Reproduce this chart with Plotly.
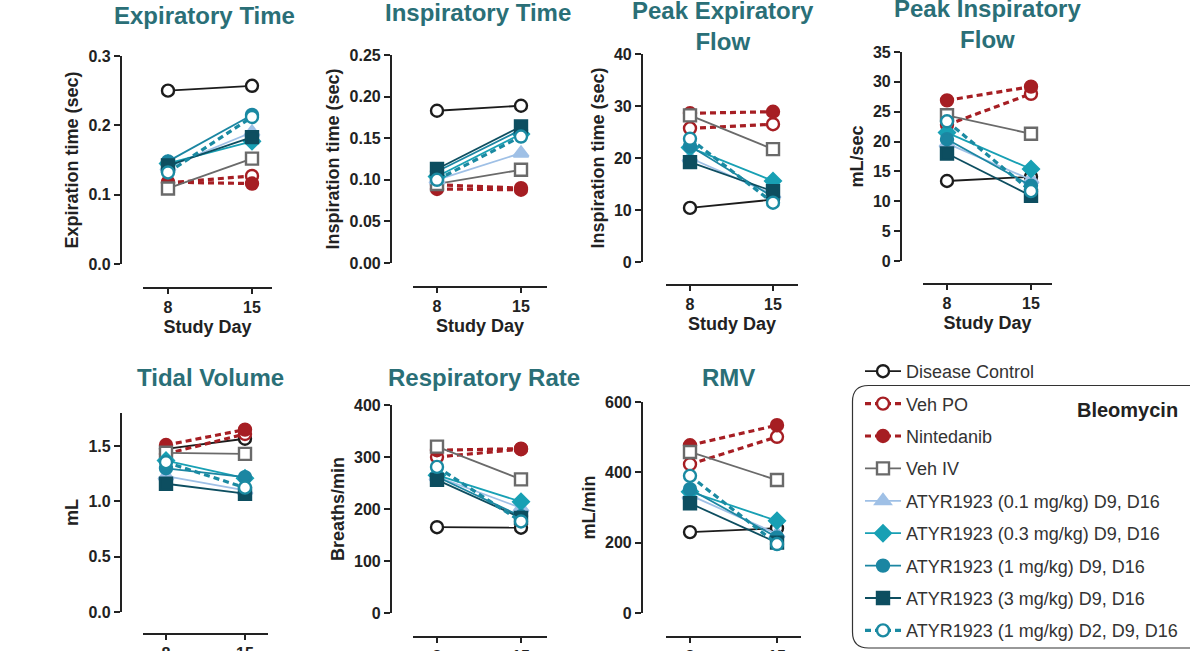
import plotly.graph_objects as go

W, H = 1190, 651

days = [8, 15]
groups = ["Disease Control", "Veh PO", "Nintedanib", "Veh IV",
          "ATYR1923 (0.1 mg/kg) D9, D16", "ATYR1923 (0.3 mg/kg) D9, D16",
          "ATYR1923 (1 mg/kg) D9, D16", "ATYR1923 (3 mg/kg) D9, D16",
          "ATYR1923 (1 mg/kg) D2, D9, D16"]

# values per group (same order as groups), day 8 and day 15
exp_time_d8 = [0.250, 0.117, 0.118, 0.109, 0.140, 0.145, 0.148, 0.142, 0.132]
exp_time_d15 = [0.257, 0.127, 0.116, 0.152, 0.190, 0.177, 0.215, 0.183, 0.212]
insp_time_d8 = [0.183, 0.094, 0.089, 0.095, 0.100, 0.104, 0.110, 0.113, 0.100]
insp_time_d15 = [0.189, 0.090, 0.088, 0.112, 0.132, 0.155, 0.160, 0.164, 0.152]
pef_d8 = [10.4, 25.7, 28.6, 28.2, 20.0, 22.0, 22.3, 19.2, 23.7]
pef_d15 = [12.0, 26.5, 28.9, 21.7, 13.0, 15.6, 12.5, 13.6, 11.4]
pif_d8 = [13.4, 22.8, 26.9, 24.4, 19.7, 21.5, 20.4, 18.0, 23.4]
pif_d15 = [14.1, 28.0, 29.2, 21.3, 13.6, 15.4, 12.6, 10.9, 11.7]
tv_d8 = [1.476, 1.43, 1.51, 1.44, 1.23, 1.37, 1.30, 1.16, 1.355]
tv_d15 = [1.567, 1.61, 1.65, 1.43, 1.10, 1.21, 1.22, 1.07, 1.125]
rr_d8 = [165, 300, 313, 320, 262, 265, 262, 256, 281]
rr_d15 = [164, 315, 316, 257, 202, 214, 186, 183, 176]
rmv_d8 = [230, 423, 477, 458, 335, 345, 352, 312, 390]
rmv_d15 = [241, 501, 534, 378, 225, 262, 215, 200, 196]

panel_titles = ["Expiratory Time", "Inspiratory Time", "Peak Expiratory<br>Flow",
                "Peak Inspiratory<br>Flow", "Tidal Volume", "Respiratory Rate", "RMV"]
y_titles = ["Expiration time (sec)", "Inspiration time (sec)", "Inspiration time (sec)",
            "mL/sec", "mL", "Breaths/min", "mL/min"]
y_ticks = [[0.0, 0.1, 0.2, 0.3], [0, 0.05, 0.10, 0.15, 0.20, 0.25], [0, 10, 20, 30, 40],
           [0, 5, 10, 15, 20, 25, 30, 35], [0.0, 0.5, 1.0, 1.5], [0, 100, 200, 300, 400],
           [0, 200, 400, 600]]
y_tickfmt = [".1f", ".2f", "d", "d", ".1f", "d", "d"]
y_max = [0.3, 0.25, 40, 35, 1.8, 400, 600]
x_title = "Study Day"

panel_data = [(exp_time_d8, exp_time_d15), (insp_time_d8, insp_time_d15), (pef_d8, pef_d15),
              (pif_d8, pif_d15), (tv_d8, tv_d15), (rr_d8, rr_d15), (rmv_d8, rmv_d15)]

# layout geometry in window pixels: y-axis x, y of zero, y of top, x-axis y, x-axis left/right,
# tick px of 8/15, title position
geom = [
    (121, 264, 56, 288, 143, 272, 168, 252, 204, 15),
    (391, 263, 55, 287, 413, 547, 437, 521, 478, 13),
    (642, 262, 54, 285, 666, 798, 690, 773, 723, 26),
    (901, 261, 52, 284, 923, 1052, 947, 1031, 987, 24),
    (121, 612, 413, 634, 143, 268, 166, 245, 210, 377),
    (391, 613, 405, 637, 413, 547, 437, 521, 484, 377),
    (642, 613, 402, 637, 666, 801, 690, 777, 728, 377),
]

RED = "#a61e23"
styles = [
    dict(color="#1c1c1c", symbol="circle", fill="white", dash="solid", lw=1.8, ms=12),
    dict(color=RED, symbol="circle", fill="white", dash="6px,4px", lw=3.2, ms=12),
    dict(color=RED, symbol="circle", fill=RED, dash="6px,4px", lw=3.2, ms=12),
    dict(color="#6a6a6a", symbol="square", fill="white", dash="solid", lw=1.8, ms=12),
    dict(color="#9fc0e6", symbol="triangle-up", fill="#9fc0e6", dash="solid", lw=1.8, ms=13),
    dict(color="#18a0b4", symbol="diamond", fill="#18a0b4", dash="solid", lw=1.8, ms=12),
    dict(color="#1b86a2", symbol="circle", fill="#1b86a2", dash="solid", lw=1.8, ms=12),
    dict(color="#0d4e60", symbol="square", fill="#0d4e60", dash="solid", lw=1.8, ms=12),
    dict(color="#1a8aa2", symbol="circle", fill="white", dash="6px,4px", lw=3.2, ms=12),
]

FONT = "Liberation Sans, Arial, sans-serif"
TXT = "#222222"
TEAL_T = "#2a6f77"

fig = go.Figure()
layout = dict(width=W, height=H, margin=dict(l=0, r=0, t=0, b=0, pad=0, autoexpand=False),
              paper_bgcolor="white", plot_bgcolor="white",
              font=dict(family=FONT, color=TXT), annotations=[], shapes=[])

def px_x(p):
    return p / W

def px_y(p):
    return 1 - p / H

for i, (d8, d15) in enumerate(panel_data):
    yx, y0, ytop, xy, xl, xr, x8, x15, tx, ty = geom[i]
    n = i + 1
    unit = (x15 - x8) / 7.0
    xrange = [8 - (x8 - xl) / unit, 15 + (xr - x15) / unit]
    xa = "xaxis" if n == 1 else f"xaxis{n}"
    ya = "yaxis" if n == 1 else f"yaxis{n}"
    layout[xa] = dict(domain=[px_x(xl), px_x(xr)], range=xrange, anchor="free",
                      position=px_y(xy), tickvals=days, ticktext=[str(d) for d in days],
                      showline=True, linecolor=TXT, linewidth=2.2, ticks="outside",
                      ticklen=5, tickwidth=2, tickcolor=TXT, showgrid=False, zeroline=False,
                      automargin=False,
                      tickfont=dict(size=16, family=FONT, color=TXT, weight="bold"))
    if i < 4:
        layout[xa]["title"] = dict(text=f"<b>{x_title}</b>",
                                   font=dict(size=18, family=FONT, color=TXT), standoff=4)
    else:
        # bottom row: axis title falls below the visible page, as in the original
        layout["annotations"].append(dict(text=f"<b>{x_title}</b>", xref="paper", yref="paper",
                                          x=px_x((xl + xr) / 2), y=px_y(xy + 30), yanchor="top",
                                          showarrow=False,
                                          font=dict(size=18, family=FONT, color=TXT)))
    layout[ya] = dict(domain=[px_y(y0), px_y(ytop)], range=[0, y_max[i]], anchor="free",
                      position=px_x(yx), tickvals=y_ticks[i], tickformat=y_tickfmt[i],
                      showline=True, linecolor=TXT, linewidth=2.2, ticks="outside",
                      ticklen=6, tickwidth=2, tickcolor=TXT, showgrid=False, zeroline=False,
                      automargin=False,
                      tickfont=dict(size=16, family=FONT, color=TXT, weight="bold"),
                      title=dict(text=f"<b>{y_titles[i]}</b>", font=dict(size=18, family=FONT, color=TXT),
                                 standoff=4))
    layout["annotations"].append(dict(text=f"<b>{panel_titles[i]}</b>", xref="paper", yref="paper",
                                      x=px_x(tx), y=px_y(ty), xanchor="center", yanchor="middle",
                                      showarrow=False,
                                      font=dict(size=24, family=FONT, color=TEAL_T)))
    for g, name in enumerate(groups):
        s = styles[g]
        fig.add_trace(go.Scatter(
            x=days, y=[d8[g], d15[g]], mode="lines+markers", name=name,
            legendgroup=name, showlegend=(i == 0),
            xaxis="x" if n == 1 else f"x{n}", yaxis="y" if n == 1 else f"y{n}",
            line=dict(color=s["color"], width=s["lw"], dash=s["dash"]),
            marker=dict(symbol=s["symbol"], size=s["ms"], color=s["fill"],
                        line=dict(color=s["color"], width=2.4)),
            cliponaxis=False,
        ))

layout["legend"] = dict(x=px_x(860), y=px_y(353), xanchor="left", yanchor="top",
                        font=dict(size=18, family=FONT, color="#333333"),
                        tracegroupgap=6, bgcolor="rgba(0,0,0,0)", itemwidth=36)

# rounded legend frame
bx0, by0, bx1, by1, r = 852.5, 385.5, 1210, 648, 16
path = (f"M {px_x(bx0 + r)} {px_y(by0)} L {px_x(bx1)} {px_y(by0)} "
        f"M {px_x(bx1)} {px_y(by1)} L {px_x(bx0 + r)} {px_y(by1)} "
        f"Q {px_x(bx0)} {px_y(by1)} {px_x(bx0)} {px_y(by1 - r)} "
        f"L {px_x(bx0)} {px_y(by0 + r)} Q {px_x(bx0)} {px_y(by0)} {px_x(bx0 + r)} {px_y(by0)}")
layout["shapes"].append(dict(type="path", xref="paper", yref="paper", path=path,
                             line=dict(color="#333333", width=1.2)))
layout["annotations"].append(dict(text="<b>Bleomycin</b>", xref="paper", yref="paper",
                                  x=px_x(1075), y=px_y(410), xanchor="left", yanchor="middle",
                                  showarrow=False, font=dict(size=20, family=FONT, color="#222222")))

fig.update_layout(**layout)
fig.write_html("out.html", config={"displayModeBar": False},
               post_script="document.body.style.margin='0px';document.body.style.padding='0px';"
                           "document.body.style.overflow='hidden';")
